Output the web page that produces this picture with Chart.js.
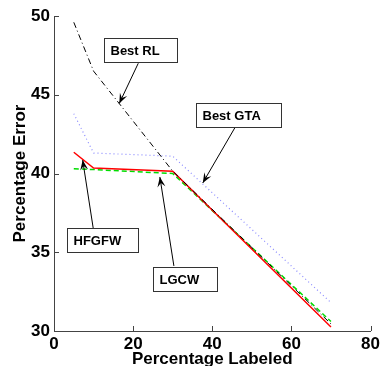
<!DOCTYPE html>
<html>
<head>
<meta charset="utf-8">
<script src="https://cdn.jsdelivr.net/npm/chart.js@4/dist/chart.umd.min.js"></script>
<style>
  html, body { margin: 0; padding: 0; background: #fff; }
  #wrap { width: 383px; height: 366px; }
</style>
</head>
<body>
<div id="wrap"><canvas id="errChart" width="383" height="366"></canvas></div>
<script>
"use strict";

// ---- data ----
var labeled = [5, 10, 30, 70];
var bestRL  = [49.6, 46.5, 40.15, 30.45];
var bestGTA = [43.8, 41.3, 41.1, 31.8];
var hfgfw   = [41.35, 40.35, 40.15, 30.25];
var lgcw    = [40.3, 40.25, 40.0, 30.6];
var xTicks  = [0, 20, 40, 60, 80];
var yTicks  = [30, 35, 40, 45, 50];

// callouts: box corner and arrow ends in data units
var callouts = [
  { text: 'Best RL',  bx: 12.7, by: 48.62, w: 73, h: 24, tail: [21.3, 47.0],  tip: [16.5, 44.45] },
  { text: 'Best GTA', bx: 36.0, by: 44.46, w: 85, h: 24, tail: [45.7, 42.9],  tip: [37.6, 39.4] },
  { text: 'HFGFW',    bx: 3.2,  by: 36.52, w: 71, h: 24, tail: [9.9, 36.54],  tip: [7.25, 40.85] },
  { text: 'LGCW',     bx: 24.9, by: 34.08, w: 64, h: 24, tail: [30.3, 34.13], tip: [26.75, 39.78] }
];

var FONT = '"Liberation Sans", Arial, Helvetica, sans-serif';
Chart.defaults.font.family = FONT;
Chart.defaults.font.weight = 'bold';
Chart.defaults.color = '#000';

function pts(ys) {
  return labeled.map(function (x, i) { return { x: x, y: ys[i] }; });
}

function line(label, ys, color, width, dash) {
  return {
    label: label,
    data: pts(ys),
    borderColor: color,
    borderWidth: width,
    borderDash: dash,
    pointRadius: 0,
    fill: false,
    tension: 0
  };
}

/*******************
   INWARD TICKS
*******************/
var inwardTicks = {
  id: 'inwardTicks',
  afterDraw: function (chart) {
    var c = chart.ctx, a = chart.chartArea;
    var sx = chart.scales.x, sy = chart.scales.y;
    c.save();
    c.strokeStyle = '#444';
    c.lineWidth = 1;
    xTicks.forEach(function (v) {
      var px = Math.round(sx.getPixelForValue(v)) + 0.5;
      c.beginPath(); c.moveTo(px, a.bottom); c.lineTo(px, a.bottom - 5); c.stroke();
    });
    yTicks.forEach(function (v) {
      var py = Math.round(sy.getPixelForValue(v)) + 0.5;
      c.beginPath(); c.moveTo(a.left, py); c.lineTo(a.left + 5, py); c.stroke();
    });
    c.restore();
  }
};

/*******************
   TEXT CALLOUTS
*******************/
function arrowHead(c, x0, y0, x1, y1) {
  var ang = Math.atan2(y1 - y0, x1 - x0);
  var len = 10, half = 4;
  c.save();
  c.translate(x1, y1);
  c.rotate(ang);
  c.beginPath();
  c.moveTo(0, 0);
  c.lineTo(-len, -half);
  c.lineTo(-len * 0.6, 0);
  c.lineTo(-len, half);
  c.closePath();
  c.fill();
  c.restore();
}

var calloutPlugin = {
  id: 'callouts',
  afterDatasetsDraw: function (chart) {
    var c = chart.ctx;
    var sx = chart.scales.x, sy = chart.scales.y;
    c.save();
    callouts.forEach(function (o) {
      var x0 = sx.getPixelForValue(o.tail[0]), y0 = sy.getPixelForValue(o.tail[1]);
      var x1 = sx.getPixelForValue(o.tip[0]),  y1 = sy.getPixelForValue(o.tip[1]);
      c.strokeStyle = '#000';
      c.fillStyle = '#000';
      c.lineWidth = 1;
      c.beginPath(); c.moveTo(x0, y0); c.lineTo(x1, y1); c.stroke();
      arrowHead(c, x0, y0, x1, y1);

      var bx = Math.round(sx.getPixelForValue(o.bx)) + 0.5;
      var by = Math.round(sy.getPixelForValue(o.by)) + 0.5;
      c.fillStyle = '#fff';
      c.fillRect(bx, by, o.w, o.h);
      c.strokeStyle = '#333';
      c.strokeRect(bx, by, o.w, o.h);
      c.fillStyle = '#000';
      c.font = 'bold 13px ' + FONT;
      c.textBaseline = 'middle';
      c.textAlign = 'left';
      c.fillText(o.text, bx + 6, by + o.h / 2 + 1);
    });
    c.restore();
  }
};

var ctx = document.getElementById('errChart');

var errChart = new Chart(ctx, {
  type: 'line',
  data: {
    datasets: [
      line('Best RL', bestRL, '#000000', 1, [6, 3, 1, 3]),
      line('Best GTA', bestGTA, '#8a8aff', 1.2, [1, 3]),
      line('HFGFW', hfgfw, '#ff0000', 1.5, []),
      line('LGCW', lgcw, '#00dd00', 1.5, [5, 3])
    ]
  },
  options: {
    responsive: false,
    animation: false,
    layout: { padding: { top: 16, right: 12, left: 0, bottom: 0 } },
    plugins: {
      legend: { display: false },
      tooltip: { enabled: false }
    },
    scales: {
      x: {
        type: 'linear',
        min: 0,
        max: 80,
        afterBuildTicks: function (s) { s.ticks = xTicks.map(function (v) { return { value: v }; }); },
        afterFit: function (s) { s.height = 35; },
        grid: { display: true, drawOnChartArea: false, drawTicks: false },
        border: { display: true, color: '#444', width: 1 },
        ticks: { padding: 3, color: '#000', font: { family: FONT, size: 17, weight: 'bold' }, maxRotation: 0 },
        title: { display: true, text: 'Percentage Labeled', color: '#000', padding: { top: 0, bottom: -4 },
                 font: { family: FONT, size: 17, weight: 'bold' } }
      },
      y: {
        type: 'linear',
        min: 30,
        max: 50,
        afterBuildTicks: function (s) { s.ticks = yTicks.map(function (v) { return { value: v }; }); },
        afterFit: function (s) { s.width = 54; },
        grid: { display: true, drawOnChartArea: false, drawTicks: false },
        border: { display: true, color: '#444', width: 1 },
        ticks: { padding: 4, color: '#000', font: { family: FONT, size: 17, weight: 'bold' } },
        title: { display: true, text: 'Percentage Error', color: '#000', padding: { top: 10, bottom: 0 },
                 font: { family: FONT, size: 17, weight: 'bold' } }
      }
    }
  },
  plugins: [inwardTicks, calloutPlugin]
});
</script>
</body>
</html>
